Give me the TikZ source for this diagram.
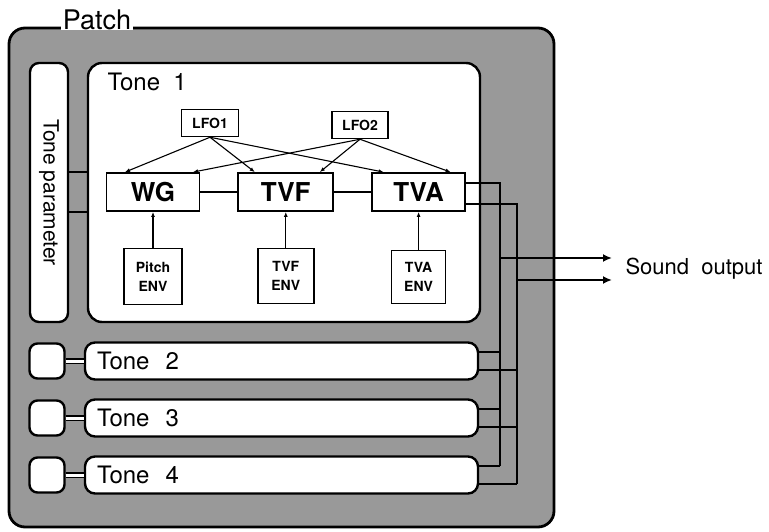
\documentclass[tikz,border=0pt]{standalone}
\usepackage{fontspec}
\setmainfont{TeX Gyre Heros}
\usetikzlibrary{arrows.meta, positioning}

\begin{document}
\begin{tikzpicture}[
  x=1pt, y=-1pt,
  patch/.style={draw, line width=2.8pt, rounded corners=16pt, fill=black!40},
  panel/.style={draw, line width=2.4pt, rounded corners=10pt, fill=white},
  unit/.style={draw, line width=1.8pt, fill=white, font=\fontsize{26}{28}\selectfont\bfseries, minimum width=93pt, minimum height=38pt, inner sep=0pt},
  small/.style={draw, line width=1.5pt, fill=white, font=\fontsize{14}{19}\selectfont\bfseries, align=center, inner sep=0pt},
  tonetxt/.style={font=\fontsize{24}{26}\selectfont},
  arrow/.style={-{Latex[length=5pt,width=4pt]}, line width=1.1pt},
  link/.style={line width=1.6pt},
  bus/.style={line width=2.2pt},
  outarrow/.style={-{Latex[length=9pt,width=8pt]}, line width=2.5pt}
]
\useasboundingbox (0,0) rectangle (769,532);
\node[patch, minimum width=545pt, minimum height=499pt] (patch) at (281.5,277.5) {};
\node[fill=white, inner xsep=2pt, inner ysep=0pt, anchor=base, font=\fontsize{27}{29}\selectfont] (patchlbl) at (97,29.5) {Patch};
\node[panel, rotate=-90, rounded corners=9pt, minimum width=259pt, minimum height=38pt, font=\fontsize{21}{24}\selectfont] (tparam) at (49,192.5) {Tone parameter};
\node[panel, rounded corners=14pt, minimum width=392pt, minimum height=259pt] (tone1) at (284,192.5) {};
\node[tonetxt, anchor=west] (tone1lbl) at (104,82) {Tone~~1};
\node[small, minimum width=57pt, minimum height=27pt] (lfo1) at (210,123) {LFO1};
\node[small, minimum width=56pt, minimum height=27pt] (lfo2) at (360,125) {LFO2};
\node[unit] (wg) at (153,192) {WG};
\node[unit, minimum width=95pt, right=37pt of wg] (tvf) {TVF};
\node[unit, right=37pt of tvf] (tva) {TVA};
\node[small, minimum width=58pt, minimum height=56pt, below=36pt of wg] (penv) {Pitch\\ENV};
\node[small, minimum width=56pt, minimum height=55pt, below=36pt of tvf] (fenv) {TVF\\ENV};
\node[small, minimum width=54pt, minimum height=53pt, below=38pt of tva] (aenv) {TVA\\ENV};
\draw[arrow] (lfo1.south) -- ([xshift=-28pt]wg.north);
\draw[arrow] (lfo1.south) -- ([xshift=-31pt]tvf.north);
\draw[arrow] (lfo1.south) -- ([xshift=-35pt]tva.north);
\draw[arrow] (lfo2.south) -- ([xshift=40pt]wg.north);
\draw[arrow] (lfo2.south) -- ([xshift=34pt]tvf.north);
\draw[arrow] (lfo2.south) -- ([xshift=32pt]tva.north);
\draw[link] (wg) -- (tvf);
\draw[link] (tvf) -- (tva);
\draw[arrow] (penv) -- (wg);
\draw[arrow] (fenv) -- (tvf);
\draw[arrow] (aenv) -- (tva);
\draw[link] (tparam.north |- wg.north) -- (tone1.west |- wg.north);
\draw[link] (tparam.north |- wg.south) -- (tone1.west |- wg.south);
\coordinate (tvaU) at ([yshift=9pt]tva.east);
\coordinate (tvaD) at ([yshift=-12pt]tva.east);
\foreach \n/\y in {2/361, 3/418, 4/475} {
  \node[panel, rounded corners=8pt, minimum width=35pt, minimum height=35pt] (key\n) at (47,\y) {};
  \node[panel, tonetxt, minimum width=393pt, minimum height=37pt, inner xsep=12pt, text width=369pt, align=left] (t\n) at (281.5,\y) {Tone~~\n};
  \draw[double, double distance=3pt, line width=1.2pt] (key\n) -- (t\n);
  \coordinate (tu\n) at ([yshift=9pt]t\n.east);
  \coordinate (td\n) at ([yshift=-9pt]t\n.east);
}
\coordinate (busL) at (500,0);
\coordinate (busR) at (517,0);
\draw[bus] (tvaU) -| (tu4 -| busL);
\draw[bus] (tvaD) -| (td4 -| busR);
\foreach \n in {2,3,4} {
  \draw[bus] (tu\n) -- (tu\n -| busL);
  \draw[bus] (td\n) -- (td\n -| busR);
}
\node[anchor=west, font=\fontsize{22}{24}\selectfont] (sound) at (622,269) {Sound~~output};
\coordinate (outU) at (612,258);
\coordinate (outD) at (612,280);
\draw[outarrow] (outU -| busL) -- (outU);
\draw[outarrow] (outD -| busR) -- (outD);
\end{tikzpicture}
\end{document}
